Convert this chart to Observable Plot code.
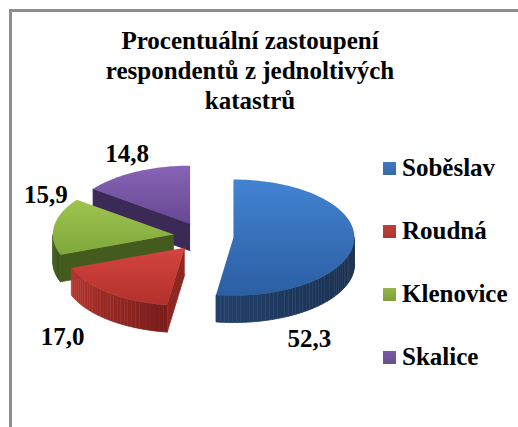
<!DOCTYPE html>
<html><head><meta charset="utf-8">
<script src="https://cdn.jsdelivr.net/npm/d3@7"></script>
<script src="https://cdn.jsdelivr.net/npm/@observablehq/plot@0.6"></script>
<style>
html,body{margin:0;padding:0;background:#fff;}
body{width:518px;height:427px;overflow:hidden;position:relative;}
#frame{position:absolute;left:9px;top:9px;width:700px;height:700px;border:3px solid #8e8e8e;box-sizing:border-box;}
#title{position:absolute;left:0;width:500px;top:26px;text-align:center;font-weight:bold;font-size:25px;line-height:30px;color:#000;}
#chart{position:absolute;left:0;top:0;}
.leg{position:absolute;left:383px;height:30px;display:flex;align-items:center;font-weight:bold;font-size:25px;color:#000;white-space:nowrap;}
.sw{width:13px;height:13px;margin-right:6px;}
</style>
</head><body>
<div id="frame"></div>
<div id="chart"></div>
<div id="title" style="font-family:'Liberation Serif'">Procentuální zastoupení<br>respondentů z jednoltivých<br>katastrů</div>
<script>
// ---- data ----
const categories = ["Soběslav", "Roudná", "Klenovice", "Skalice"];
const values = [52.3, 17.0, 15.9, 14.8];
const valueLabels = ["52,3", "17,0", "15,9", "14,8"];

// ---- styles ----
const FONT = "Liberation Serif";
const topColors = [["#4283d2", "#2c5ea2"], ["#d4453e", "#b3302c"], ["#9ec450", "#80a73b"], ["#8764b5", "#674894"]];
const wallColors = [["#182b49", "#21406a"], ["#781c1a", "#b8362f"], ["#3a5018", "#4a6621"], ["#2e2144", "#3d2c5a"]];
const radialWallColors = ["#1d3658", "#8e2622", "#435c1d", "#3a2a55"];
const legendColors = ["#3f79c2", "#c23e3a", "#93b646", "#7a5aa3"];
const labelOffset = [[76, 101], [-122, 89], [-128, -39], [-63, -70]];

// ---- geometry (layout) ----
const cx0 = 203, cy0 = 236, rx = 121, ry = 58, depth = 27, explode = 30;
const k = ry / rx;
const rad = d => d * Math.PI / 180;
const total = d3.sum(values);
let acc = 0;
const slices = values.map((v, i) => {
  const a0 = acc / total * 360; acc += v;
  const a1 = acc / total * 360;
  const bis = rad((a0 + a1) / 2);
  const ox = cx0 + explode * Math.sin(bis);
  const oy = cy0 - explode * k * Math.cos(bis);
  return {i, a0, a1, ox, oy};
});
const P = (s, aDeg, r, h) => ({x: s.ox + r * rx * Math.sin(rad(aDeg)), y: s.oy - r * ry * Math.cos(rad(aDeg)) + h * depth});

const wallPts = [], topPts = [];
let pid = 0;
const order = [3, 2, 1, 0];
const addPoly = (arr, pts, fill) => { const id = pid++; pts.forEach(p => arr.push({...p, id, fill})); };
for (const i of order) {
  const s = slices[i];
  if (Math.sin(rad(s.a0)) < -1e-6) addPoly(wallPts, [P(s, s.a0, 0, 0), P(s, s.a0, 1, 0), P(s, s.a0, 1, 1), P(s, s.a0, 0, 1)], radialWallColors[i]);
  if (Math.sin(rad(s.a1)) > 1e-6) addPoly(wallPts, [P(s, s.a1, 0, 0), P(s, s.a1, 1, 0), P(s, s.a1, 1, 1), P(s, s.a1, 0, 1)], radialWallColors[i]);
  const w0 = Math.max(s.a0, 90), w1 = Math.min(s.a1, 270);
  if (w1 > w0) {
    const n = Math.max(2, Math.ceil((w1 - w0) / 2));
    const interp = d3.interpolateRgb(wallColors[i][0], wallColors[i][1]);
    for (let j = 0; j < n; j++) {
      const aa = w0 + (w1 - w0) * j / n, bb = w0 + (w1 - w0) * (j + 1) / n;
      const t = ((aa + bb) / 2 - w0) / Math.max(1, (w1 - w0));
      addPoly(wallPts, [P(s, aa, 1, 0), P(s, bb, 1, 0), P(s, bb, 1, 1), P(s, aa, 1, 1)], interp(t));
    }
  }
  const pts = [P(s, s.a0, 0, 0)];
  const m = Math.ceil((s.a1 - s.a0) / 1.5);
  for (let j = 0; j <= m; j++) pts.push(P(s, s.a0 + (s.a1 - s.a0) * j / m, 1, 0));
  addPoly(topPts, pts, `url(#gtop${i})`);
}

const labelData = slices.map(s => ({x: s.ox + labelOffset[s.i][0], y: s.oy + labelOffset[s.i][1], text: valueLabels[s.i]}));

const chart = Plot.plot({
  width: 518, height: 427, margin: 0,
  x: {domain: [0, 518], range: [0, 518], axis: null},
  y: {domain: [0, 427], range: [0, 427], axis: null},
  color: {type: "identity"},
  style: {background: "transparent", overflow: "visible"},
  marks: [
    Plot.line(wallPts, {x: "x", y: "y", z: "id", fill: "fill", stroke: "fill", strokeWidth: 0.8, curve: "linear"}),
    Plot.line(topPts, {x: "x", y: "y", z: "id", fill: "fill", stroke: "none", curve: "linear"}),
    Plot.text(labelData, {x: "x", y: "y", text: "text", fontSize: 25, fontWeight: "bold", fontFamily: FONT, fill: "#000"})
  ]
});
const defs = d3.select(chart).insert("defs", ":first-child");
topColors.forEach((c, i) => {
  const g = defs.append("linearGradient").attr("id", `gtop${i}`).attr("x1", 0).attr("y1", 0).attr("x2", 0).attr("y2", 1);
  g.append("stop").attr("offset", "0%").attr("stop-color", c[0]);
  g.append("stop").attr("offset", "100%").attr("stop-color", c[1]);
});
d3.select(chart).selectAll("text").style("font-family", FONT);
document.getElementById("chart").appendChild(chart);

categories.forEach((c, i) => {
  const d = document.createElement("div");
  d.className = "leg";
  d.style.fontFamily = FONT;
  d.style.top = (153 + i * 63) + "px";
  d.innerHTML = `<span class="sw" style="background:linear-gradient(${legendColors[i]}, ${d3.color(legendColors[i]).darker(0.4)})"></span>${c}`;
  document.body.appendChild(d);
});
</script>
</body></html>
